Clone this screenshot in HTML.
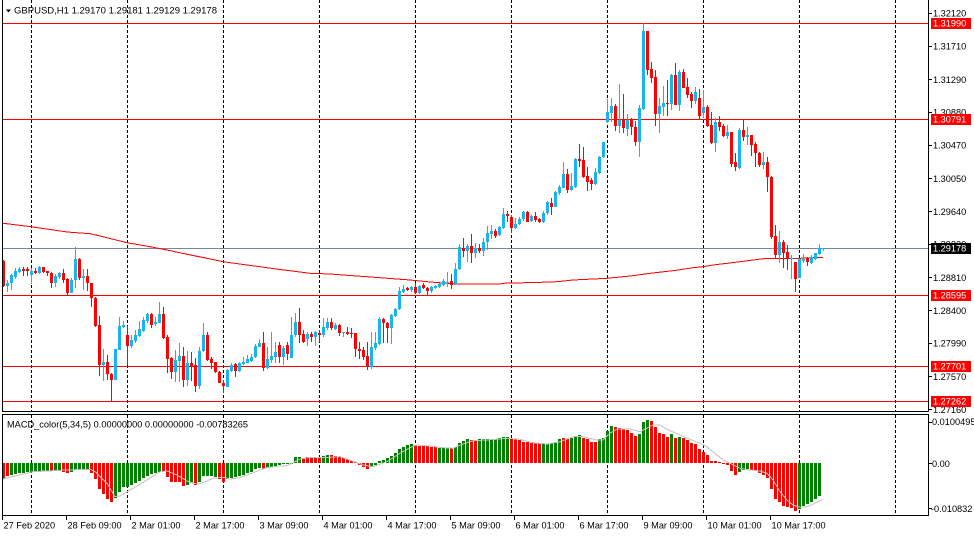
<!DOCTYPE html>
<html><head><meta charset="utf-8">
<style>
html,body{margin:0;padding:0;background:#fff;width:974px;height:536px;overflow:hidden}
svg{display:block}
text{font-family:"Liberation Sans",Arial,sans-serif;font-size:9.2px;fill:#000}
</style>
</head><body>
<svg id="s" width="974" height="536" viewBox="0 0 974 536" xmlns="http://www.w3.org/2000/svg" shape-rendering="crispEdges">
<rect x="0" y="0" width="974" height="536" fill="#fff"/>
<!-- grid -->
<path d="M31.5 0V411M127.5 0V411M223.5 0V411M319.5 0V411M415.5 0V411M511.5 0V411M607.5 0V411M703.5 0V411M799.5 0V411M895.5 0V411M31.5 415V515M127.5 415V515M223.5 415V515M319.5 415V515M415.5 415V515M511.5 415V515M607.5 415V515M703.5 415V515M799.5 415V515M895.5 415V515" stroke="#000" stroke-width="1" stroke-dasharray="3,2" fill="none"/>
<!-- horizontal lines -->
<path d="M2 23.5H928M2 119.5H928M2 295.5H928M2 366.5H928M2 401.5H928" stroke="#ff0000" stroke-width="1" fill="none"/>
<path d="M2 248.5H928" stroke="#778899" stroke-width="1" fill="none"/>
<!-- MA -->
<polyline fill="none" stroke="#ff0000" stroke-width="1" points="3,223.3 31,226.7 67,232 90,233.7 100,236 127,242.7 150,246.7 167,250 187,254.3 207,258.3 223,261.7 247,265 267,267.7 280,269.5 290,270.7 310,273.3 330,274 347,275.3 367,276.7 393,278.7 410,280 430,282 457,284 500,284 503,283.3 540,282.3 557,281.7 573,280 607,278.3 633,275.7 650,273.3 673,270.7 693,267.7 703,266.7 713,265 727,263.3 740,261.7 753,260 767,258.3 800,258.3 823,257.3"/>
<g id="dyn"></g>
<!-- signal line -->
<polyline id="sig" fill="none" stroke="#c0c0c0" stroke-width="1" points="3,479 33,471.7 67,470 90,469.3 95,471.7 107,483.3 115,496.7 120,496 133,488.3 147,480 160,471.7 167,471 177,475 187,481 197,484.3 203,482.7 213,478.3 223,477.3 230,479 240,477.7 250,474 260,470 267,467.7 280,466 287,465.7 293,462.7 300,459 310,457.3 330,457.3 340,456.7 350,460 363,465 373,466.7 387,461.7 400,453.3 410,447.7 417,445 430,446 443,447.7 453,448.3 463,444 473,440.7 487,440 507,438.3 520,439.3 533,442.7 547,444 560,441.7 573,436.7 583,436.7 597,440 603,440 610,433.3 617,429 630,429 640,431.7 653,425 660,425 667,429.3 680,435 690,439.3 700,443.3 707,446.7 713,451.7 723,460 730,463.3 740,468.3 750,470 760,471 767,473.3 773,480 780,491.7 787,500 793,505 800,507.3 807,506.7 813,504.3 823,499.3"/>
<!-- frames -->
<path d="M2.5 0V411.5H928.5M928.5 0V411.5" stroke="#000" stroke-width="1" fill="none"/>
<rect x="2.5" y="414.5" width="926" height="101" stroke="#000" stroke-width="1" fill="none"/>
<!-- price ticks -->
<path d="M929 13.5H932M929 46.5H932M929 79.5H932M929 112.5H932M929 145.5H932M929 178.5H932M929 211.5H932M929 244.5H932M929 277.5H932M929 310.5H932M929 343.5H932M929 376.5H932M929 409.5H932M929 422.5H932M929 463.5H932M929 508.5H932" stroke="#000" stroke-width="1" fill="none"/>
<!-- time ticks -->
<path d="M2.5 516V520M66.5 516V520M130.5 516V520M194.5 516V520M258.5 516V520M322.5 516V520M386.5 516V520M450.5 516V520M514.5 516V520M578.5 516V520M642.5 516V520M706.5 516V520M770.5 516V520" stroke="#000" stroke-width="1" fill="none"/>
<!-- header -->
<polygon points="6,9.5 11,9.5 8.5,12.5" fill="#000" shape-rendering="geometricPrecision"/>
<text x="14" y="13.6" textLength="203" lengthAdjust="spacingAndGlyphs">GBPUSD,H1  1.29170 1.29181 1.29129 1.29178</text>
<text x="7" y="427.3" textLength="241" lengthAdjust="spacingAndGlyphs">MACD_color(5,34,5) 0.00000000 0.00000000 -0.00783265</text>
<!-- price labels -->
<text x="933" y="16.6">1.32120</text>
<text x="933" y="49.4">1.31710</text>
<text x="933" y="82.9">1.31290</text>
<text x="933" y="115.7">1.30880</text>
<text x="933" y="148.5">1.30470</text>
<text x="933" y="182">1.30050</text>
<text x="933" y="214.8">1.29640</text>
<text x="933" y="247.6">1.29230</text>
<text x="933" y="281.1">1.28810</text>
<text x="933" y="313.9">1.28400</text>
<text x="933" y="346.7">1.27990</text>
<text x="933" y="380.2">1.27570</text>
<text x="933" y="413">1.27160</text>
<!-- price boxes -->
<rect x="931" y="18" width="40" height="11" fill="#ff0000"/>
<text x="933" y="26.6" style="fill:#fff">1.31990</text>
<rect x="931" y="114" width="40" height="11" fill="#ff0000"/>
<text x="933" y="122.6" style="fill:#fff">1.30791</text>
<rect x="931" y="243" width="40" height="11" fill="#000"/>
<text x="933" y="251.6" style="fill:#fff">1.29178</text>
<rect x="931" y="290" width="40" height="11" fill="#ff0000"/>
<text x="933" y="298.6" style="fill:#fff">1.28595</text>
<rect x="931" y="361" width="40" height="11" fill="#ff0000"/>
<text x="933" y="369.6" style="fill:#fff">1.27701</text>
<rect x="931" y="396" width="40" height="11" fill="#ff0000"/>
<text x="933" y="404.6" style="fill:#fff">1.27262</text>
<!-- macd axis -->
<text x="932" y="425.2">0.0100495</text>
<text x="932" y="466.8">0.00</text>
<text x="931" y="511.8">-0.010832</text>
<!-- time labels -->
<text x="3.5" y="528.3">27 Feb 2020</text>
<text x="67.5" y="528.3">28 Feb 09:00</text>
<text x="131.5" y="528.3">2 Mar 01:00</text>
<text x="195.5" y="528.3">2 Mar 17:00</text>
<text x="259.5" y="528.3">3 Mar 09:00</text>
<text x="323.5" y="528.3">4 Mar 01:00</text>
<text x="387.5" y="528.3">4 Mar 17:00</text>
<text x="451.5" y="528.3">5 Mar 09:00</text>
<text x="515.5" y="528.3">6 Mar 01:00</text>
<text x="579.5" y="528.3">6 Mar 17:00</text>
<text x="643.5" y="528.3">9 Mar 09:00</text>
<text x="707.5" y="528.3">10 Mar 01:00</text>
<text x="771.5" y="528.3">10 Mar 17:00</text>
</svg>
<script>
(function(){
var A=[[180,183,258,262,1],[240,248,258,275,0],[222,225,250,270,0],[205,212,230,238,0],[200,207,215,218,0],[200,207,213,228,1],[200,208,213,228,1],[205,212,225,252,0],[205,212,220,222,1],[198,202,220,222,0],
[200,202,215,220,1],[212,212,220,228,1],[215,220,250,263,1],[222,228,250,260,0],[215,220,230,238,0],[208,220,240,248,1],[235,237,278,285,1],[235,240,278,280,0],[142,178,240,265,0],[175,178,235,240,1],
[208,228,234,270,0],[208,228,250,272,1],[248,250,295,320,1],[290,293,378,380,1],[348,375,495,527,1],[448,487,495,542,0],[465,487,523,540,1],[520,522,540,607,1],[447,447,540,540,0],[350,378,450,450,0],
[362,375,381,385,0],[378,405,437,495,1],[405,420,437,445,0],[390,405,422,430,0],[362,388,408,410,0],[350,360,392,395,0],[338,342,362,370,0],[340,342,375,383,1],[352,366,372,378,0],[306,342,368,370,0],
[320,342,413,417,1],[405,412,477,520,1],[470,475,515,537,1],[450,480,515,545,0],[430,468,483,545,0],[440,468,541,560,1],[452,490,541,557,0],[455,490,500,543,1],[475,495,557,575,1],[440,453,557,568,0],
[370,405,453,455,0],[396,405,480,483,1],[470,477,490,508,1],[485,487,515,520,1],[512,515,548,550,1],[540,548,557,580,1],[508,510,560,562,0],[490,495,513,515,0],[490,493,512,530,1],[485,488,512,515,0],
[472,485,492,495,0],[466,477,488,490,0],[462,470,482,486,0],[432,437,472,475,0],[418,428,440,442,0],[395,430,505,512,1],[440,478,505,508,0]];
var B=[[545,618,630,640,0],[575,607,622,640,0],[575,585,620,640,1],[588,593,622,645,0],[575,585,612,630,1],[500,555,625,625,0],[490,515,555,560,0],[475,515,555,580,1],[540,552,577,580,1],[545,552,566,588,0],
[545,553,560,575,1],[543,545,560,588,0],[540,550,556,575,1],[505,530,556,560,0],[505,515,533,540,0],[505,515,535,540,1],[518,525,537,540,0],[522,525,548,558,1],[546,546,549,560,0],[532,546,551,555,1],
[535,548,553,565,1],[548,550,598,620,1],[575,598,603,628,1],[590,600,620,630,1],[577,617,648,660,1],[545,590,650,658,0],[545,580,595,600,0],[500,507,583,586,0],[505,507,520,578,1],[515,518,533,578,1],
[493,495,535,582,0],[473,477,497,500,0],[410,424,478,480,0],[405,416,426,430,0],[412,415,419,424,1],[409,411,420,425,0],[398,410,428,432,1],[405,408,428,432,0],[398,406,415,418,1],[410,414,424,435,1],
[409,411,424,428,0],[405,409,413,418,0],[398,403,412,415,0],[387,393,405,408,0],[365,395,399,410,0],[373,393,405,418,1],[338,358,403,405,0],[283,291,358,360,0],[263,293,302,320,1],[283,287,302,336,0],
[252,287,308,340,1],[280,295,308,325,0],[283,294,303,310,1],[265,276,303,318,0],[228,249,277,300,0],[225,243,251,267,0],[238,243,257,265,1],[228,232,256,258,0],[175,191,233,236,0],[182,191,197,215,1],
[195,200,235,250,1],[205,221,235,237,0],[200,206,223,226,0],[182,185,208,212,0],[182,185,215,216,1],[195,198,214,216,0],[186,198,210,215,1],[203,206,216,218,1],[183,188,215,218,0],[153,156,190,195,0]];
var C=[[565,578,590,615,1],[542,546,590,592,0],[525,530,550,555,0],[455,491,533,535,0],[478,491,540,550,1],[490,528,540,542,0],[443,446,530,535,0],[402,446,453,470,1],[410,450,500,503,1],[472,497,515,542,1],
[505,510,521,540,1],[474,485,522,525,0],[437,440,488,493,0],[395,397,442,445,0],[266,305,335,338,0],[265,288,308,335,0],[283,288,347,362,1],[222,330,347,370,0],[252,330,355,370,1],[312,330,357,377,0],
[325,328,352,375,1],[333,350,395,407,1],[285,294,395,440,0],[40,63,297,300,0],[63,63,180,195,1],[157,178,203,218,1],[180,202,312,347,1],[265,288,312,370,0],[228,280,290,318,0],[210,278,282,318,1],
[192,195,282,300,0],[158,195,285,285,1],[180,185,285,302,0],[178,185,233,235,1],[205,230,255,265,1],[245,253,273,293,1],[232,246,273,282,0],[236,263,318,328,1],[240,292,309,325,0],[285,292,348,350,1],
[305,345,400,403,1],[325,335,398,425,0],[318,335,352,362,1],[343,347,378,380,1],[345,366,378,388,0],[365,366,462,472,1],[430,455,472,482,1],[355,360,473,478,0],[328,360,380,392,1],[350,375,380,405,0],
[375,376,404,438,1],[395,402,430,470,1],[425,430,465,472,1],[425,456,465,478,0],[440,456,502,545,1],[498,501,682,688,1],[645,678,736,745,1],[662,695,736,760,0],[690,695,728,775,1],[705,726,748,780,1],
[735,743,748,808,0],[755,755,806,845,1],[745,748,803,805,0],[732,746,752,760,0],[740,745,757,768,1],[735,742,758,762,0],[728,730,747,750,0],[702,715,732,735,0],[713,715,718,722,0]];
var M="r237 r228 g225 g222 g220 g218 g217 g217 g215 g213 g212 g212 r213 g212 g212 r215 r220 g217 g210 g208 g208 g210 r218 r237 r268 r283 r297 r305 g295 g275 g262 g260 g255 g250 g243 g235 g228 g222 g218 g215 r213 r230 r245 r247 r245 r257 g254 g250 r255 g245 g228 g228 g228 g230 r237 r245 g238 g233 g232 g228 g224 g220 g215 g208 g205 r207 g203 g200 g197 g196 g193 g192 g190 g172 g170 r178 r172 r172 r172 r172 g168 g165 r165 r168 r170 r175 r178 r183 r185 r195 r200 r207 g198 g195 g183 g180 g175 g168 g158 g148 g140 g135 g132 r135 r137 r137 r138 r140 r140 g143 g143 g143 r145 g140 g128 g123 g118 r120 r120 g118 g117 g117 g117 g118 g115 g110 g110 r117 r118 r120 r125 r125 r130 r128 r130 g132 g132 g130 g125 g118 r113 r118 g115 g107 g105 r113 r118 r125 r125 g118 g115 g92 g78 r80 r85 r88 r90 r100 r108 g103 g65 g60 r62 r80 r98 r103 r110 g103 r115 g110 r115 r120 r128 r133 r147 r155 r165 r183 r183 r185 r192 r196 r213 r225 g215 g210 g208 r210 r213 r218 r225 r233 r268 r297 r307 r318 r322 r325 r333 g327 g318 g313 g305 g298 g288".split(" ");
var h="";
var BLUE="#17b5f0",RED="#ff0000";
function cand(i,off,d){
  var cx=3+4*i;
  var hi=Math.round(off+d[0]/3), bt=Math.round(off+d[1]/3), bb=Math.round(off+d[2]/3), lo=Math.round(off+d[3]/3);
  if(bb-bt<1) bb=bt+1;
  if(hi>bt) hi=bt; if(lo<bb) lo=bb;
  var col=d[4]?RED:BLUE;
  h+='<rect x="'+cx+'" y="'+hi+'" width="1" height="'+Math.max(1,lo-hi)+'" fill="'+col+'"/>';
  h+='<rect x="'+(cx-1)+'" y="'+bt+'" width="3" height="'+(bb-bt)+'" fill="'+col+'"/>';
}
var i;
for(i=0;i<=66;i++) cand(i,200,A[i]);
for(i=67;i<=136;i++) cand(i,150,B[i-67]);
for(i=137;i<=205;i++) cand(i,10,C[i-137]);
var Z=463;
for(i=0;i<M.length;i++){
  var s=M[i]; if(!s) continue;
  var col=s.charAt(0)=="g"?"#008000":"#ff0000";
  var y=Math.round(400+parseFloat(s.substring(1))/3);
  var cx=3+4*i, top, ht;
  if(y<Z){top=y;ht=Z-y;}else{top=Z;ht=Math.max(1,y-Z);}
  h+='<rect x="'+(cx-1)+'" y="'+top+'" width="3" height="'+ht+'" fill="'+col+'"/>';
}
document.getElementById("dyn").insertAdjacentHTML("beforeend",h);
})();
</script>
</body></html>
